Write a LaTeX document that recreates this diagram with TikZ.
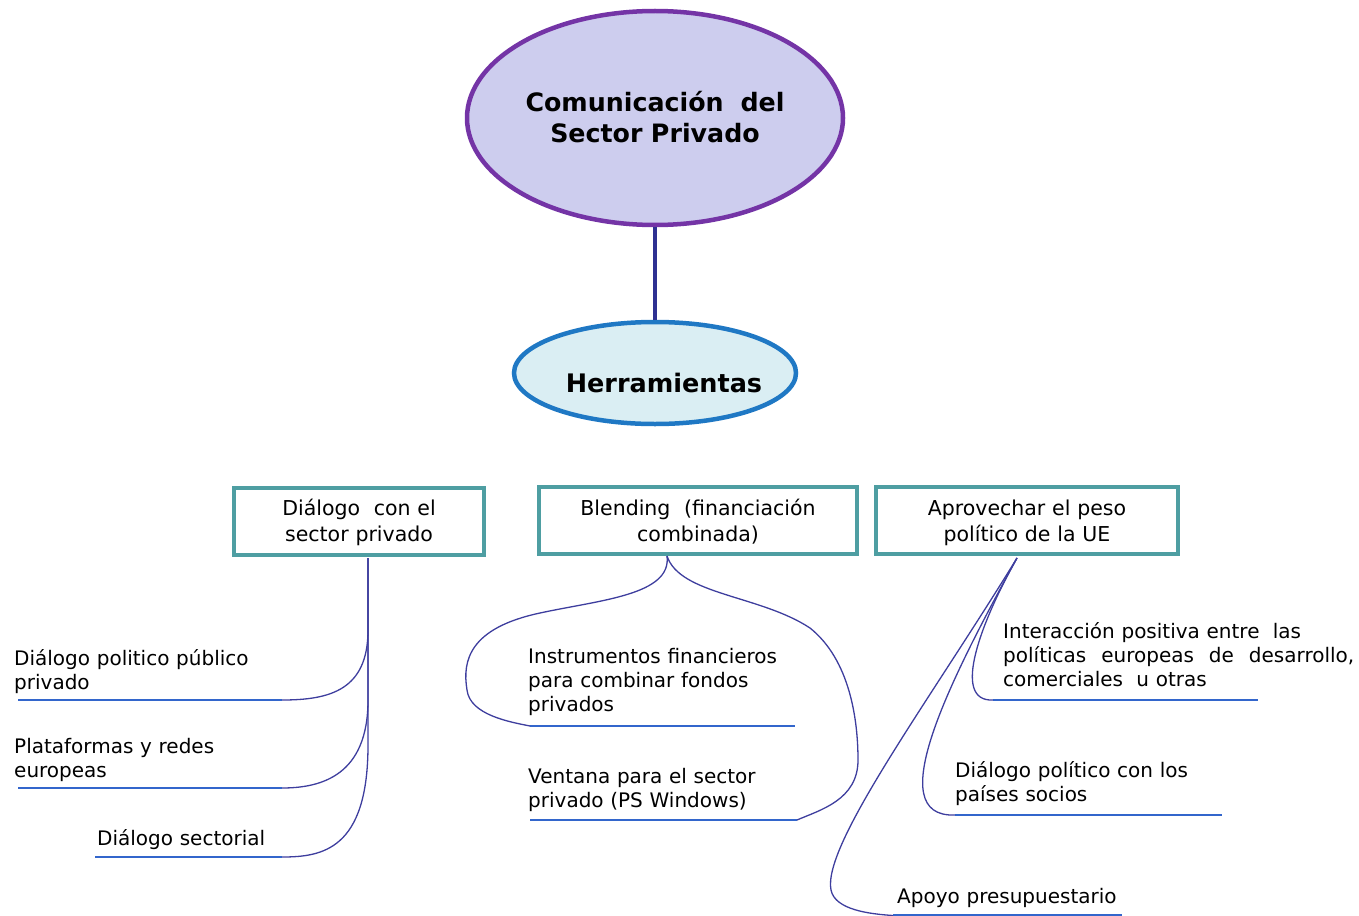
\documentclass[tikz,border=0pt]{standalone}
\usepackage{fontspec}
\setmainfont{DejaVu Sans}
\usetikzlibrary{shapes.geometric}
\definecolor{lavfill}{HTML}{CDCDEE}
\definecolor{purpline}{HTML}{7434A6}
\definecolor{cyanfill}{HTML}{DAEEF3}
\definecolor{blueline}{HTML}{1F78C4}
\definecolor{tealline}{HTML}{4E9EA2}
\definecolor{conn}{HTML}{3E3E9E}
\definecolor{ulcol}{HTML}{3366CC}
\definecolor{trunk}{HTML}{2E3192}
\tikzset{
  tbox/.style={draw=tealline, line width=4.5pt, rectangle, minimum height=67pt, inner sep=0pt},
  boxtxt/.style={anchor=base, align=center, inner sep=0pt, font=\fontsize{20.5}{26.5}\selectfont},
  leaf/.style={anchor=base west, align=left, inner sep=0pt, font=\fontsize{20}{24}\selectfont},
  connector/.style={draw=conn, line width=1.3pt},
  uline/.style={draw=ulcol, line width=2.5pt},
}
\begin{document}
\begin{tikzpicture}[x=1pt,y=-1pt]
\useasboundingbox (0,0) rectangle (1359,915);

% top ellipse
\node[ellipse, draw=purpline, fill=lavfill, line width=4.5pt, minimum width=376pt, minimum height=214pt, inner sep=0pt] (com) at (655,118) {};
\node[anchor=base, align=center, text width=300pt, inner sep=0pt, font=\bfseries\fontsize{25.3}{31}\selectfont] (comtxt) at (655,112) {Comunicación\ \ del\\Sector Privado};

% second ellipse
\node[ellipse, draw=blueline, fill=cyanfill, line width=4.5pt, minimum width=282pt, minimum height=102pt, inner sep=0pt] (herr) at (655,373) {};
\node[anchor=base, inner sep=0pt, font=\bfseries\fontsize{25.5}{31}\selectfont] (herrtxt) at (664,392) {Herramientas};

\draw[draw=trunk, line width=4pt] (com.south) -- (herr.north);

% boxes
\node[tbox, minimum width=250pt] (b1) at (359,521.5) {};
\node[boxtxt, text width=240pt] (b1t) at (359,515) {Diálogo\ \ con el\\sector privado};
\node[tbox, minimum width=318pt] (b2) at (698,520.5) {};
\node[boxtxt, text width=310pt] (b2t) at (698,515) {Blending\ \ (financiación\\combinada)};
\node[tbox, minimum width=302pt] (b3) at (1027,520.5) {};
\node[boxtxt, text width=290pt] (b3t) at (1027,515) {Aprovechar el peso\\político de la UE};

% left leaves
\node[leaf, text width=300pt] (l1) at (14,665) {Diálogo politico público\\privado};
\node[leaf, text width=300pt] (l2) at (14,753) {Plataformas y redes\\europeas};
\node[leaf, text width=300pt] (l3) at (97,845) {Diálogo sectorial};
\coordinate (u1a) at (18,700); \coordinate (u1b) at (282,700);
\coordinate (u2a) at (18,788); \coordinate (u2b) at (282,788);
\coordinate (u3a) at (95,857); \coordinate (u3b) at (282,857);
\draw[uline] (u1a) -- (u1b);
\draw[uline] (u2a) -- (u2b);
\draw[uline] (u3a) -- (u3b);
\coordinate (s1) at (368,558);
\draw[connector] (s1) -- (368,630) .. controls (368,690) and (330,700) .. (u1b);
\draw[connector] (s1) -- (368,700) .. controls (368,775) and (322,788) .. (u2b);
\draw[connector] (s1) -- (368,745) .. controls (368,850) and (322,857) .. (u3b);

% middle leaves
\node[leaf, text width=300pt] (m1) at (528,663) {Instrumentos financieros\\para combinar fondos\\privados};
\node[leaf, text width=300pt] (m2) at (528,783) {Ventana para el sector\\privado (PS Windows)};
\coordinate (v1a) at (530,726); \coordinate (v1b) at (795,726);
\coordinate (v2a) at (530,820); \coordinate (v2b) at (797,820);
\draw[uline] (v1a) -- (v1b);
\draw[uline] (v2a) -- (v2b);
\coordinate (s2) at (667,556);
\draw[connector] (s2) .. controls (672,595) and (600,600) .. (540,613) .. controls (470,628) and (462,660) .. (467,690) .. controls (470,715) and (510,722) .. (v1a);
\draw[connector] (s2) .. controls (680,595) and (760,595) .. (810,628) .. controls (850,660) and (858,720) .. (858,760) .. controls (858,800) and (820,810) .. (v2b);

% right leaves
\node[leaf, text width=360pt] (r1) at (1003,638) {Interacción positiva entre\ \ las\\\makebox[351pt][l]{políticas\hfill europeas\hfill de\hfill desarrollo,}\\comerciales\ \ u otras};
\node[leaf, text width=300pt] (r2) at (955,777) {Diálogo político con los\\países socios};
\node[leaf, text width=300pt] (r3) at (897,903) {Apoyo presupuestario};
\coordinate (w1a) at (993,700); \coordinate (w1b) at (1258,700);
\coordinate (w2a) at (955,815); \coordinate (w2b) at (1222,815);
\coordinate (w3a) at (893,915.5); \coordinate (w3b) at (1122,915.5);
\draw[uline] (w1a) -- (w1b);
\draw[uline] (w2a) -- (w2b);
\draw[uline] (w3a) -- (w3b);
\coordinate (s3) at (1017,558);
\draw[connector] (s3) .. controls (982,620) and (950,702) .. (w1a);
\draw[connector] (s3) .. controls (950,680) and (880,818) .. (w2a);
\draw[connector] (s3) .. controls (930,700) and (822,845) .. (831,890) .. controls (835,910) and (870,914) .. (w3a);
\end{tikzpicture}
\end{document}
